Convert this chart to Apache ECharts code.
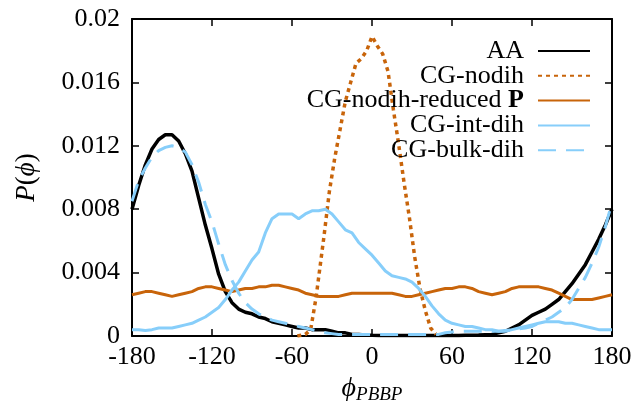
<!DOCTYPE html>
<html>
<head>
<meta charset="utf-8">
<script src="https://cdn.jsdelivr.net/npm/echarts@6/dist/echarts.min.js"></script>
<style>html,body{margin:0;padding:0;background:#fff}#c{width:636px;height:401px}</style>
</head>
<body>
<div id="c"></div>
<script>
var angles = [-180,-175,-170,-165,-160,-155,-150,-145,-140,-135,-130,-125,-120,-115,-110,-105,-100,-95,-90,-85,-80,-75,-70,-65,-60,-55,-50,-45,-40,-35,-30,-25,-20,-15,-10,-5,0,5,10,15,20,25,30,35,40,45,50,55,60,65,70,75,80,85,90,95,100,105,110,115,120,125,130,135,140,145,150,155,160,165,170,175,180];

var aa = [0.0080,0.0095,0.0108,0.0118,0.0124,0.0127,0.0127,0.0123,0.0115,0.0104,0.0087,0.0070,0.0055,0.0039,0.0028,0.0021,0.0017,0.0015,0.0014,0.0012,0.0011,0.0009,0.0008,0.0007,0.0006,0.0005,0.0005,0.0004,0.0004,0.0004,0.0003,0.0002,0.0002,0.0001,0.0001,0.00006,0.00004,0.00003,0.00003,0.00003,0.00003,0.00003,0.00003,0.00003,0.00003,0.00003,0.00003,0.00003,0.00003,0.00003,0.00004,0.00005,0.00006,0.00008,0.0001,0.0002,0.0003,0.0005,0.0007,0.0010,0.0013,0.0015,0.0017,0.0020,0.0023,0.0028,0.0033,0.0039,0.0045,0.0053,0.0061,0.0070,0.0080];

var nodihReduced = [0.0026,0.0027,0.0028,0.0028,0.0027,0.0026,0.0025,0.0026,0.0027,0.0028,0.0030,0.0031,0.0031,0.0030,0.0029,0.0028,0.0029,0.0030,0.0030,0.0031,0.0031,0.0032,0.0032,0.0031,0.0030,0.0029,0.0027,0.0026,0.0025,0.0025,0.0025,0.0025,0.0026,0.0027,0.0027,0.0027,0.0027,0.0027,0.0027,0.0027,0.0026,0.0025,0.0025,0.0026,0.0027,0.0028,0.0029,0.0030,0.0030,0.0031,0.0031,0.0030,0.0028,0.0027,0.0026,0.0027,0.0028,0.0030,0.0031,0.0031,0.0031,0.0031,0.0030,0.0029,0.0027,0.0025,0.0023,0.0023,0.0023,0.0023,0.0024,0.0025,0.0026];

var intDih = [0.0004,0.0004,0.00035,0.0004,0.0005,0.0005,0.0005,0.0006,0.0007,0.0008,0.0010,0.0012,0.0015,0.0018,0.0023,0.0029,0.0034,0.0041,0.0048,0.0053,0.0065,0.0074,0.0077,0.0077,0.0077,0.0074,0.0077,0.0079,0.0079,0.0080,0.0077,0.0072,0.0067,0.0065,0.0059,0.0055,0.0051,0.0046,0.0041,0.0038,0.0037,0.0036,0.0034,0.0030,0.0025,0.0019,0.0014,0.0010,0.0008,0.0007,0.0006,0.0006,0.0005,0.0004,0.0004,0.0003,0.0003,0.0004,0.0005,0.0006,0.0007,0.0008,0.0009,0.0009,0.0009,0.0008,0.0008,0.0007,0.0006,0.0005,0.0004,0.0004,0.0004];

var bulkDih = [0.0085,0.0098,0.0106,0.0113,0.0117,0.0119,0.0120,0.0119,0.0116,0.0108,0.0097,0.0083,0.0072,0.0058,0.0045,0.0035,0.0027,0.0021,0.0017,0.0014,0.0012,0.0010,0.0009,0.0008,0.0007,0.0006,0.0005,0.0004,0.0003,0.0002,0.00015,0.0001,0.0001,0.0001,0.0001,0.0001,0.0001,0.0001,0.0001,0.0001,0.0001,0.0001,0.0001,0.0001,0.0001,0.0001,0.0001,0.0002,0.00025,0.0003,0.0003,0.0003,0.0003,0.0003,0.0003,0.0003,0.00035,0.0004,0.00045,0.0005,0.0006,0.0008,0.0010,0.0012,0.0015,0.0018,0.0023,0.0030,0.0037,0.0046,0.0056,0.0069,0.0084];

var nodihAngles = [-56,-50,-46,-42,-36,-32,-28,-24,-20,-16,-12,-8,-4,0,4,8,12,16,20,24,28,32,36,40,44,48];
var nodih = [0,0.0001,0.0004,0.0024,0.0063,0.0091,0.0112,0.0130,0.0148,0.0160,0.0172,0.0175,0.0180,0.0189,0.0183,0.0178,0.0167,0.0143,0.0121,0.0097,0.0075,0.0050,0.0030,0.0016,0.0005,0.0001];

var xTicks = [-180,-120,-60,0,60,120,180];
var yTicks = ['0','0.004','0.008','0.012','0.016','0.02'];

function pairs(xs, ys){ return xs.map(function(x,i){ return [x, ys[i]]; }); }

var FONT = '"Liberation Serif", "DejaVu Serif", serif';
var orange = '#c8640a';
var blue = '#87cefa';

var chart = echarts.init(document.getElementById('c'), null, {renderer:'canvas'});
var axisLine = {show:true, onZero:false, lineStyle:{color:'#000', width:2}};
var tick = {show:true, inside:true, length:7, lineStyle:{color:'#000', width:1.5}};
chart.setOption({
  animation:false,
  backgroundColor:'#fff',
  grid:{left:132, right:24, top:19, bottom:65, containLabel:false, outerBoundsMode:'none'},
  legend:{
    orient:'vertical', right:40, top:33, align:'right',
    itemWidth:52, itemHeight:14, itemGap:-1.2,
    itemStyle:{opacity:0},
    data:['AA','CG-nodih','CG-nodih-reduced','CG-int-dih','CG-bulk-dih'],
    formatter:function(n){ return n==='CG-nodih-reduced' ? 'CG-nodih-reduced {b|P}' : n; },
    textStyle:{fontFamily:FONT, fontSize:26, color:'#000', lineHeight:24.5, padding:[0,9,0,0],
      rich:{b:{fontFamily:FONT, fontSize:26, fontWeight:'bold', color:'#000', lineHeight:24.5}}}
  },
  xAxis:[{
    type:'value', min:-180, max:180, interval:60, position:'bottom',
    axisLine:axisLine, axisTick:tick, splitLine:{show:false},
    axisLabel:{fontFamily:FONT, fontSize:26, color:'#000', margin:8,
      formatter:function(v){ return xTicks.indexOf(v)>=0 ? String(v) : ''; }},
    name:'{phi|ϕ}{sub|PBBP}', nameLocation:'middle', nameGap:29,
    nameTextStyle:{rich:{
      phi:{fontFamily:FONT, fontSize:28, fontStyle:'italic', color:'#000'},
      sub:{fontFamily:FONT, fontSize:19, fontStyle:'italic', color:'#000', verticalAlign:'bottom', padding:[12,0,0,0]}}}
  },{
    type:'value', min:-180, max:180, interval:60, position:'top',
    axisLine:axisLine, axisTick:tick, axisLabel:{show:false}, splitLine:{show:false}
  }],
  yAxis:[{
    type:'value', min:0, max:0.02, interval:0.004, position:'left',
    axisLine:axisLine, axisTick:tick, splitLine:{show:false},
    axisLabel:{fontFamily:FONT, fontSize:26, color:'#000', margin:12,
      formatter:function(v){ var i=Math.round(v/0.004); return yTicks[i]; }},
    name:'{i|P}({i|ϕ})', nameLocation:'middle', nameGap:92, nameRotate:90,
    nameTextStyle:{fontFamily:FONT, fontSize:27, color:'#000',
      rich:{i:{fontFamily:FONT, fontSize:27, fontStyle:'italic', color:'#000'}}}
  },{
    type:'value', min:0, max:0.02, interval:0.004, position:'right',
    axisLine:axisLine, axisTick:tick, axisLabel:{show:false}, splitLine:{show:false}
  }],
  series:[
    {name:'AA', type:'line', data:pairs(angles, aa), symbol:'none', smooth:false,
      lineStyle:{color:'#000', width:3.5}, itemStyle:{color:'#000'}},
    {name:'CG-nodih', type:'line', data:pairs(nodihAngles, nodih), symbol:'none',
      lineStyle:{color:orange, width:3.5, type:[4,4]}, itemStyle:{color:orange}},
    {name:'CG-nodih-reduced', type:'line', data:pairs(angles, nodihReduced), symbol:'none',
      lineStyle:{color:orange, width:3}, itemStyle:{color:orange}},
    {name:'CG-int-dih', type:'line', data:pairs(angles, intDih), symbol:'none',
      lineStyle:{color:blue, width:3}, itemStyle:{color:blue}},
    {name:'CG-bulk-dih', type:'line', data:pairs(angles, bulkDih), symbol:'none',
      lineStyle:{color:blue, width:3, type:[18,10]}, itemStyle:{color:blue}}
  ]
});
</script>
</body>
</html>
